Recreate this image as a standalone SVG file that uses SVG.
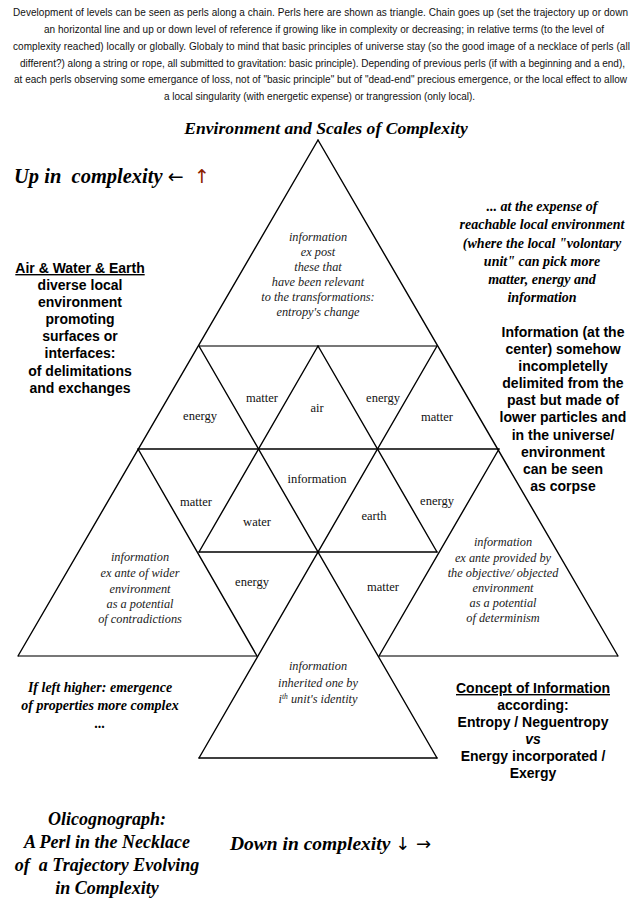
<svg xmlns="http://www.w3.org/2000/svg" width="642" height="903" viewBox="0 0 642 903">
<style>
.hdr{font-family:"Liberation Sans",Arial,sans-serif;font-size:10px;fill:#111}
.ttl{font-family:"Liberation Serif","Times New Roman",serif;font-weight:bold;font-style:italic;fill:#000}
.arr{font-family:"DejaVu Sans",sans-serif;font-style:normal;font-weight:normal}
.bs{font-family:"Liberation Sans",Arial,sans-serif;font-weight:bold;font-size:14px;fill:#000;text-anchor:middle}
.bi{font-family:"Liberation Serif","Times New Roman",serif;font-weight:bold;font-style:italic;font-size:14px;fill:#000;text-anchor:middle}
.lbl{font-family:"Liberation Serif","Times New Roman",serif;font-size:12.5px;fill:#111;text-anchor:middle}
.it{font-family:"Liberation Serif","Times New Roman",serif;font-style:italic;font-size:12.3px;fill:#222;text-anchor:middle}
.ln{stroke:#000;stroke-width:1.4;fill:none;stroke-linecap:round}
.gl{stroke:#777;stroke-width:2;fill:none}
</style>
<rect width="642" height="903" fill="#fff"/>
<g id="header">
<text class="hdr" x="13" y="16" textLength="615" lengthAdjust="spacing">Development of levels can be seen as perls along a chain. Perls here are shown as triangle. Chain goes up (set the trajectory up or down</text>
<text class="hdr" x="44" y="33" textLength="560" lengthAdjust="spacing">an horizontal line and up or down level of reference if growing like in complexity or decreasing; in relative terms (to the level of</text>
<text class="hdr" x="13" y="50" textLength="617" lengthAdjust="spacing">complexity reached) locally or globally. Globaly to mind that basic principles of universe stay (so the good image of a necklace of perls (all</text>
<text class="hdr" x="20" y="67" textLength="605" lengthAdjust="spacing">different?) along a string or rope, all submitted to gravitation: basic principle). Depending of previous perls (if with a beginning and a end),</text>
<text class="hdr" x="14" y="83" textLength="613" lengthAdjust="spacing">at each perls observing some emergance of loss, not of "basic principle" but of "dead-end" precious emergence, or the local effect to allow</text>
<text class="hdr" x="164" y="100" textLength="311" lengthAdjust="spacing">a local singularity (with energetic expense) or trangression (only local).</text>
</g>
<g id="title"><text class="ttl" x="326" y="134" font-size="17.6" text-anchor="middle">Environment and Scales of Complexity</text></g>
<g id="up"><text class="ttl" x="14" y="183" font-size="20.5">Up in&#160; complexity <tspan class="arr" font-size="19">←</tspan>&#160; <tspan class="arr" font-size="19" fill="#8b2000">↑</tspan></text></g>
<g id="connectors">
<line class="gl" x1="199" y1="346" x2="437" y2="346"/>
<line class="gl" x1="18" y1="656" x2="257" y2="656"/>
<line class="gl" x1="379" y1="656" x2="618" y2="656"/>
<line class="ln" x1="318" y1="140" x2="18" y2="656"/>
<line class="ln" x1="318" y1="140" x2="618" y2="656"/>
<line class="ln" x1="199" y1="346" x2="437" y2="758"/>
<line class="ln" x1="437" y1="346" x2="199" y2="758"/>
<line class="ln" x1="318" y1="346" x2="437" y2="552"/>
<line class="ln" x1="318" y1="346" x2="199" y2="552"/>
<line class="ln" x1="138" y1="449" x2="257" y2="656"/>
<line class="ln" x1="499" y1="449" x2="379" y2="656"/>
<line class="ln" x1="138" y1="449" x2="499" y2="449"/>
<line class="ln" x1="199" y1="552" x2="437" y2="552"/>
<line class="ln" x1="199" y1="758" x2="437" y2="758"/>
</g>
<g id="top-triangle">
<text class="it" x="318" y="241">information</text>
<text class="it" x="318" y="256">ex post</text>
<text class="it" x="318" y="271">these that</text>
<text class="it" x="318" y="286">have been relevant</text>
<text class="it" x="318" y="301">to the transformations:</text>
<text class="it" x="318" y="316">entropy's change</text>
</g>
<g id="hexagon">
<text class="lbl" x="200" y="420">energy</text>
<text class="lbl" x="262" y="402">matter</text>
<text class="lbl" x="317" y="412">air</text>
<text class="lbl" x="383" y="402">energy</text>
<text class="lbl" x="437" y="421">matter</text>
<text class="lbl" x="196" y="506">matter</text>
<text class="lbl" x="257" y="526">water</text>
<text class="lbl" x="317" y="483">information</text>
<text class="lbl" x="374" y="520">earth</text>
<text class="lbl" x="437" y="505">energy</text>
<text class="lbl" x="252" y="586">energy</text>
<text class="lbl" x="383" y="591">matter</text>
</g>
<g id="left-triangle">
<text class="it" x="140" y="561">information</text>
<text class="it" x="140" y="577">ex ante of wider</text>
<text class="it" x="140" y="593">environment</text>
<text class="it" x="140" y="608">as a potential</text>
<text class="it" x="140" y="623">of contradictions</text>
</g>
<g id="right-triangle">
<text class="it" x="503" y="546">information</text>
<text class="it" x="503" y="562">ex ante provided by</text>
<text class="it" x="503" y="577">the objective/ objected</text>
<text class="it" x="503" y="592">environment</text>
<text class="it" x="503" y="607">as a potential</text>
<text class="it" x="503" y="622">of determinism</text>
</g>
<g id="bottom-triangle">
<text class="it" x="318" y="670">information</text>
<text class="it" x="318" y="687">inherited one by</text>
<text class="it" x="318" y="703">i<tspan font-size="7.5" dy="-4">th</tspan><tspan dy="4"> unit's identity</tspan></text>
</g>
<g id="air-water-earth">
<text class="bs" x="80" y="273" text-decoration="underline">Air &amp; Water &amp; Earth</text>
<text class="bs" x="80" y="290">diverse local</text>
<text class="bs" x="80" y="307">environment</text>
<text class="bs" x="80" y="324">promoting</text>
<text class="bs" x="80" y="341">surfaces or</text>
<text class="bs" x="80" y="358">interfaces:</text>
<text class="bs" x="80" y="376">of delimitations</text>
<text class="bs" x="80" y="393">and exchanges</text>
</g>
<g id="expense">
<text class="bi" x="542" y="211">... at the expense of</text>
<text class="bi" x="542" y="229">reachable local environment</text>
<text class="bi" x="542" y="248">(where the local "volontary</text>
<text class="bi" x="542" y="266">unit" can pick more</text>
<text class="bi" x="542" y="284">matter, energy and</text>
<text class="bi" x="542" y="302">information</text>
</g>
<g id="information-center">
<text class="bs" x="563" y="337">Information (at the</text>
<text class="bs" x="563" y="354">center) somehow</text>
<text class="bs" x="563" y="371">incompletelly</text>
<text class="bs" x="563" y="388">delimited from the</text>
<text class="bs" x="563" y="405">past but made of</text>
<text class="bs" x="563" y="422">lower particles and</text>
<text class="bs" x="563" y="440">in the universe/</text>
<text class="bs" x="563" y="457">environment</text>
<text class="bs" x="563" y="474">can be seen</text>
<text class="bs" x="563" y="491">as corpse</text>
</g>
<g id="left-higher">
<text class="bi" x="100" y="692">If left higher: emergence</text>
<text class="bi" x="100" y="710">of properties more complex</text>
<text class="bi" x="100" y="728">...</text>
</g>
<g id="concept">
<text class="bs" x="533" y="693" text-decoration="underline">Concept of Information</text>
<text class="bs" x="533" y="710">according:</text>
<text class="bs" x="533" y="727">Entropy / Neguentropy</text>
<text class="bs" x="533" y="744" font-style="italic">vs</text>
<text class="bs" x="533" y="761">Energy incorporated /</text>
<text class="bs" x="533" y="778">Exergy</text>
</g>
<g id="olicognograph">
<text class="ttl" x="107" y="825" font-size="18" text-anchor="middle">Olicognograph:</text>
<text class="ttl" x="107" y="848" font-size="18" text-anchor="middle">A Perl in the Necklace</text>
<text class="ttl" x="107" y="871" font-size="18" text-anchor="middle">of&#160; a Trajectory Evolving</text>
<text class="ttl" x="107" y="894" font-size="18" text-anchor="middle">in Complexity</text>
</g>
<g id="down"><text class="ttl" x="230" y="850" font-size="19.5">Down in complexity <tspan class="arr" font-size="18">↓ →</tspan></text></g>
</svg>
